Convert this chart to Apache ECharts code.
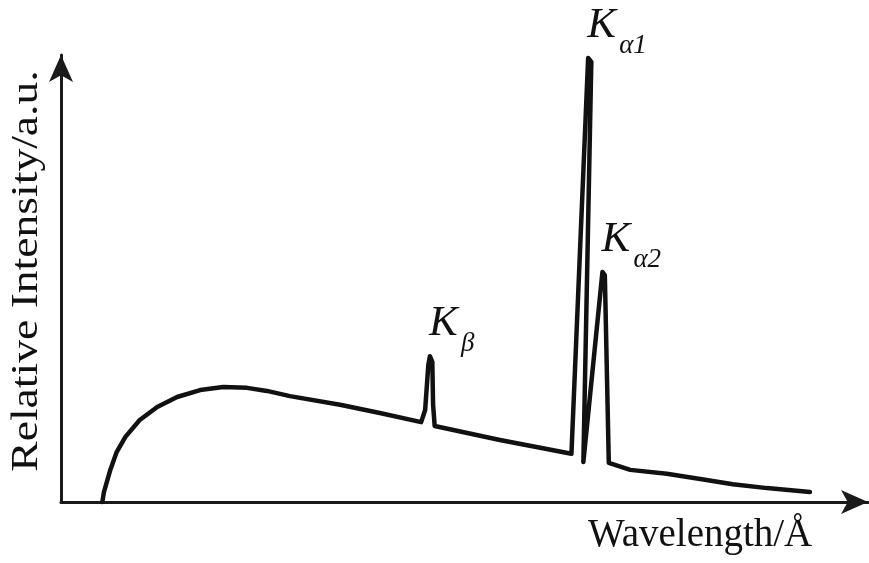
<!DOCTYPE html>
<html><head><meta charset="utf-8">
<script src="https://cdn.jsdelivr.net/npm/echarts@6/dist/echarts.min.js"></script>
<style>html,body{margin:0;padding:0;background:#fff}#c{width:869px;height:563px}</style>
</head><body><div id="c"></div>
<script>
// Wavelength (arbitrary units along the axis) and relative intensity (a.u.)
const wavelength = [5.2, 5.4, 6.2, 7.0, 8.1, 9.9, 12.1, 14.6, 17.5, 20.4, 23.4, 25.9, 28.8, 35.1, 40.1, 45.3,
  45.8, 46.2, 46.4, 46.7, 46.8, 47.0, 55.2, 64.2, 66.3, 66.7, 65.7, 68.1, 68.4, 68.9, 71.6, 76.2, 80.4, 84.5, 88.8, 94.2];
const intensity = [0, 2.3, 7.4, 11.5, 15.0, 18.9, 21.9, 24.2, 25.8, 26.5, 26.3, 25.6, 24.4, 22.4, 20.5, 18.4,
  21.2, 31.6, 33.6, 32.3, 22.4, 17.5, 14.3, 11.1, 102.3, 101.4, 9.2, 53.0, 52.3, 9.0, 7.4, 6.5, 5.3, 4.1, 3.2, 2.3];
const peakNames = ['K', 'K', 'K'];
const peakSubs = ['β', 'α1', 'α2'];
const peakIdx = [18, 24, 27];
const xTitle = 'Wavelength/Å';
const yTitle = 'Relative Intensity/a.u.';

const FONT = '"Liberation Serif","Times New Roman",serif';
const chart = echarts.init(document.getElementById('c'), null, {renderer: 'canvas'});
const axisCommon = {
  type: 'value', min: 0,
  axisLine: {show: true, symbol: ['none', 'arrow'], symbolSize: [18, 27], lineStyle: {color: '#1a1a1a', width: 3}},
  axisTick: {show: false}, axisLabel: {show: false}, splitLine: {show: false}
};
chart.setOption({
  animation: false,
  backgroundColor: '#fff',
  grid: {left: 61, right: 1, top: 55, bottom: 61},
  xAxis: Object.assign({}, axisCommon, {max: 101.5}),
  yAxis: Object.assign({}, axisCommon, {max: 103}),
  series: [{
    type: 'line', showSymbol: false, clip: false, smooth: false,
    data: wavelength.map((w, i) => [w, intensity[i]]),
    lineStyle: {color: '#111', width: 4.5, cap: 'round', join: 'round'}
  }]
});
const g = [];
peakIdx.forEach((idx, k) => {
  const p = chart.convertToPixel({gridIndex: 0}, [wavelength[idx], intensity[idx]]);
  g.push({type: 'text', x: p[0] - 1, y: p[1] - 32, style: {text: peakNames[k], font: 'italic 43px ' + FONT, fill: '#111', align: 'left', verticalAlign: 'middle'}});
  g.push({type: 'text', x: p[0] + 31, y: p[1] - 12, style: {text: peakSubs[k], font: 'italic 27px ' + FONT, fill: '#111', align: 'left', verticalAlign: 'middle'}});
});
g.push({type: 'text', x: 588, y: 536, style: {text: xTitle, font: '39px ' + FONT, fill: '#111', align: 'left', verticalAlign: 'middle'}});
g.push({type: 'text', x: 27, y: 271, rotation: Math.PI / 2, scaleX: 1.2, style: {text: yTitle, font: '38px ' + FONT, fill: '#111', align: 'center', verticalAlign: 'middle'}});
chart.setOption({graphic: g});
</script>
</body></html>
